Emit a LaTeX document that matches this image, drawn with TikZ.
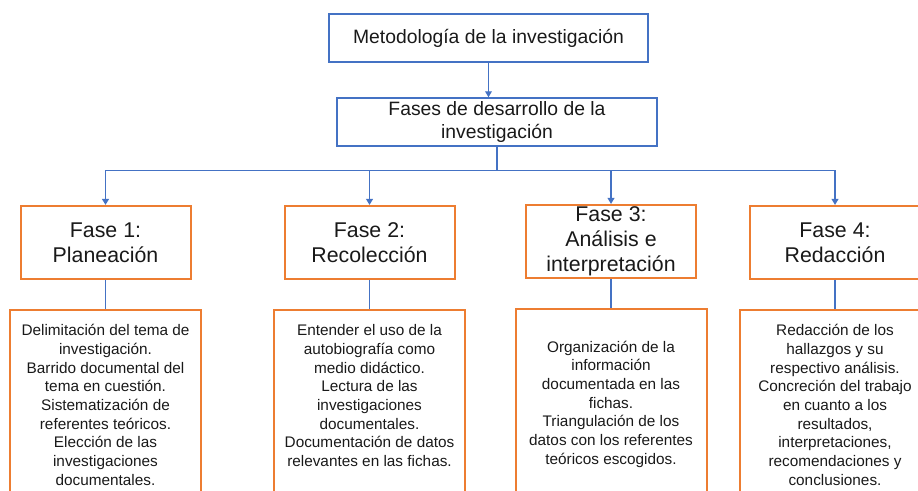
\documentclass[tikz,border=0pt]{standalone}
\usepackage{fontspec}
\setmainfont{Liberation Sans}
\usetikzlibrary{arrows.meta,positioning,calc}
\definecolor{boxblue}{HTML}{4472C4}
\definecolor{boxorange}{HTML}{ED7D31}

\begin{document}
\begin{tikzpicture}[x=0.75pt,y=-0.75pt,
    topbox/.style={draw=boxblue,line width=1.1pt,minimum width=239.25pt,minimum height=36pt,
      inner sep=0pt,align=center,text=black!90,font=\fontsize{14.5}{17.5}\selectfont},
    fasebox/.style={draw=boxorange,line width=1.5pt,minimum width=127.5pt,minimum height=54.75pt,
      inner sep=0pt,align=center,text=black!90,font=\fontsize{16}{18.5}\selectfont},
    detbox/.style={draw=boxorange,line width=1.5pt,minimum width=143.25pt,minimum height=142.5pt,
      inner sep=0pt,align=center,text=black!90,font=\fontsize{11.5}{14}\selectfont},
    link/.style={draw=boxblue,line width=1.1pt},
    arr/.style={link,-{Triangle[width=5pt,length=4.5pt]}}]

    \clip (0,0) rectangle (918,491);

    \node [topbox] (metodo) at (488.5,38) {Metodología de la investigación};
    \node [topbox,minimum width=240pt] (fases) at (497,122) {Fases de desarrollo de la\\investigación};
    \coordinate [below=18pt of fases.south] (bus);

    \node [fasebox] (fase1) at (105.5,242.5) {Fase 1:\\Planeación};
    \node [fasebox] (fase2) at (369.5,242.5) {Fase 2:\\Recolección};
    \node [fasebox,font=\fontsize{16}{18.75}\selectfont] (fase3) at (611,241.5) {Fase 3:\\Análisis e\\interpretación};
    \node [fasebox] (fase4) at (835,242.5) {Fase 4:\\Redacción};

    \node [detbox,minimum height=142.5pt] (det1) at (105.5,405) {Delimitación del tema de\\investigación.\\Barrido documental del\\tema en cuestión.\\Sistematización de\\referentes teóricos.\\Elección de las\\investigaciones\\documentales.};
    \node [detbox] (det2) at (369.5,405) {Entender el uso de la\\autobiografía como\\medio didáctico.\\Lectura de las\\investigaciones\\documentales.\\Documentación de datos\\relevantes en las fichas.\\~};
    \node [detbox] (det3) at (611,404) {Organización de la\\información\\documentada en las\\fichas.\\Triangulación de los\\datos con los referentes\\teóricos escogidos.};
    \node [detbox] (det4) at (835,405) {Redacción de los\\hallazgos y su\\respectivo análisis.\\Concreción del trabajo\\en cuanto a los\\resultados,\\interpretaciones,\\recomendaciones y\\conclusiones.};

    \draw [arr] (metodo.south) -- (metodo.south |- fases.north);
    \draw [link] (fases.south) -- (bus);
    \foreach \f in {fase1,fase2,fase3,fase4}
        \draw [arr] (bus) -| (\f.north);
    \foreach \f/\d in {fase1/det1,fase2/det2,fase3/det3,fase4/det4}
        \draw [link] (\f) -- (\d);
\end{tikzpicture}
\end{document}
